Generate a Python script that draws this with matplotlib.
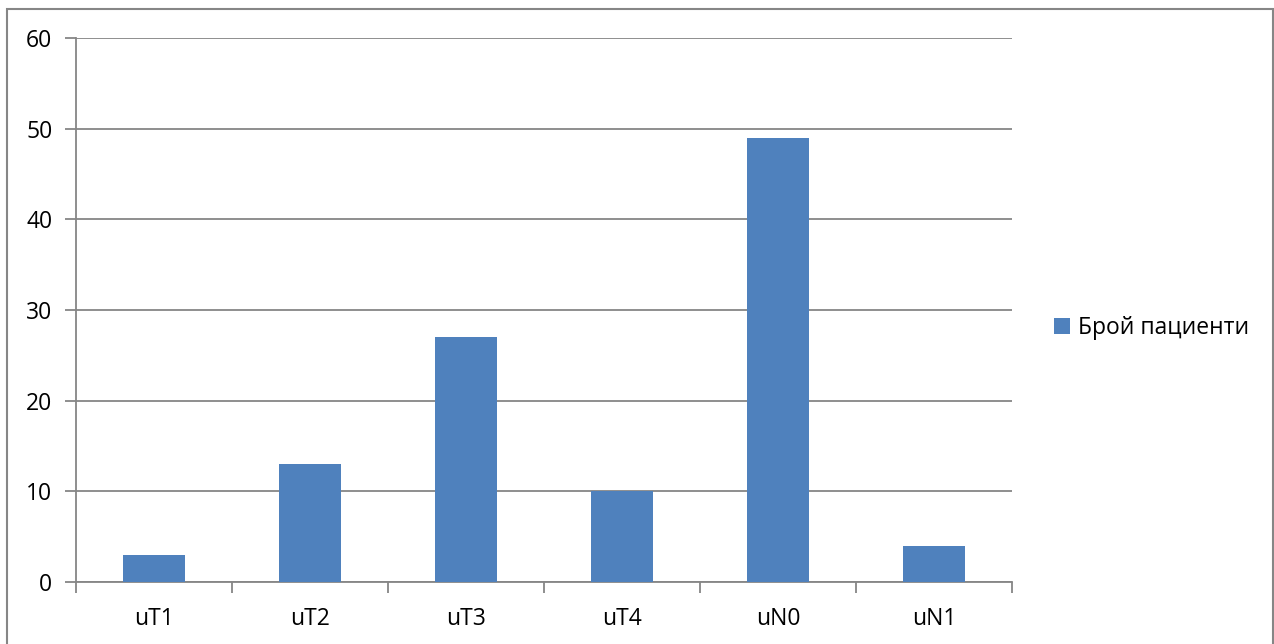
import matplotlib.pyplot as plt
from matplotlib.patches import Rectangle
import numpy as np

# categories and counts
categories = ["uT1", "uT2", "uT3", "uT4", "uN0", "uN1"]
patients = [3, 13, 27, 10, 49, 4]
series_name = "Брой пациенти"

plt.rcParams['font.family'] = ['Open Sans', 'DejaVu Sans']
plt.rcParams['font.size'] = 16.5

grey = "#868686"
blue = "#4F81BD"

fig = plt.figure(figsize=(12.74, 6.44), dpi=100)
ax = fig.add_axes([76/1274, 1-582/644, (1012-76)/1274, (582-38)/644])

x = np.arange(len(categories))
ax.bar(x, patients, width=0.4, color=blue, label=series_name, zorder=3)

ax.set_xlim(-0.5, len(categories)-0.5)
ax.set_ylim(0, 60)
ax.set_yticks(range(0, 61, 10))

# tick marks on category boundaries, labels at the centres
ax.set_xticks(np.arange(-0.5, len(categories), 1))
ax.set_xticklabels([])
ax.set_xticks(x, minor=True)
ax.set_xticklabels(categories, minor=True)
ax.tick_params(axis='x', which='major', length=8, width=1.3, color=grey, direction='out')
ax.tick_params(axis='x', which='minor', length=0, pad=18)
ax.tick_params(axis='y', length=8, width=1.3, color=grey, direction='out', pad=9)

ax.grid(axis='y', color=grey, linewidth=1.3, zorder=0)
ax.set_axisbelow(True)
for side in ['top', 'right']:
    ax.spines[side].set_visible(False)
for side in ['left', 'bottom']:
    ax.spines[side].set_color(grey)
    ax.spines[side].set_linewidth(1.3)

ax.legend(loc='center left', bbox_to_anchor=(1.023, 0.467), frameon=False,
          handlelength=0.7, handleheight=0.7, handletextpad=0.35)

# outer chart frame
fig.patches.append(Rectangle((7/1274, -0.02), (1272.5-7)/1274, 1.02-9/644,
                             transform=fig.transFigure, fill=False,
                             edgecolor=grey, linewidth=1.5))

fig.savefig("out.png", dpi=100)
